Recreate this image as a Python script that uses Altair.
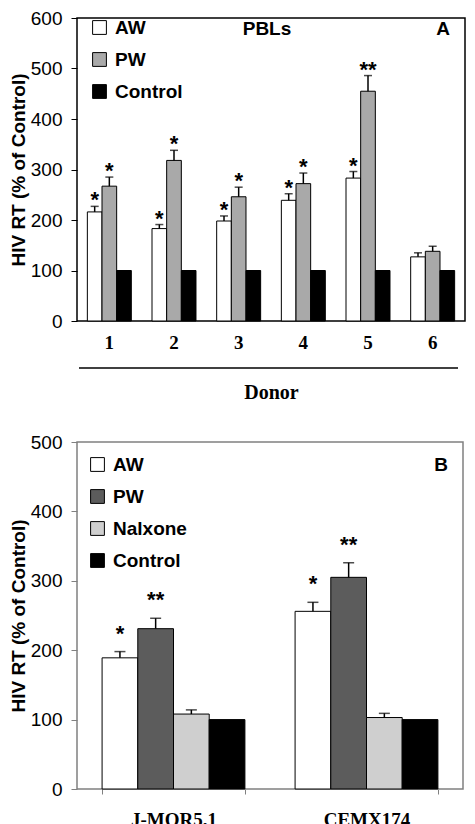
import altair as alt
import pandas as pd

# ---------------- Panel A data (PBLs) ----------------
donors = ["1", "2", "3", "4", "5", "6"]
groups_a = ["AW", "PW", "Control"]
a_aw = [216, 183, 198, 239, 283, 127]
a_aw_err = [11, 8, 10, 13, 13, 8]
a_pw = [267, 318, 246, 272, 455, 138]
a_pw_err = [18, 20, 19, 21, 31, 10]
a_ctrl = [100, 100, 100, 100, 100, 100]
a_aw_sig = ["*", "*", "*", "*", "*", ""]
a_pw_sig = ["*", "*", "*", "*", "**", ""]

# ---------------- Panel B data (cell lines) ----------------
cells = ["J-MOR5.1", "CEMX174"]
groups_b = ["AW", "PW", "Nalxone", "Control"]
b_aw = [189, 256]
b_aw_err = [9, 13]
b_pw = [231, 305]
b_pw_err = [15, 21]
b_nal = [108, 103]
b_nal_err = [6, 6]
b_ctrl = [100, 100]
b_aw_sig = ["*", "*"]
b_pw_sig = ["**", "**"]

rows = []
for i, d in enumerate(donors):
    rows.append(dict(cat=d, group="AW", value=a_aw[i], err=a_aw_err[i], sig=a_aw_sig[i]))
    rows.append(dict(cat=d, group="PW", value=a_pw[i], err=a_pw_err[i], sig=a_pw_sig[i]))
    rows.append(dict(cat=d, group="Control", value=a_ctrl[i], err=0, sig=""))
df_a = pd.DataFrame(rows)
df_a["top"] = df_a["value"] + df_a["err"]

rows = []
for i, c in enumerate(cells):
    rows.append(dict(cat=c, group="AW", value=b_aw[i], err=b_aw_err[i], sig=b_aw_sig[i]))
    rows.append(dict(cat=c, group="PW", value=b_pw[i], err=b_pw_err[i], sig=b_pw_sig[i]))
    rows.append(dict(cat=c, group="Nalxone", value=b_nal[i], err=b_nal_err[i], sig=""))
    rows.append(dict(cat=c, group="Control", value=b_ctrl[i], err=0, sig=""))
df_b = pd.DataFrame(rows)
df_b["top"] = df_b["value"] + df_b["err"]

SANS = "Liberation Sans"
SERIF = "Liberation Serif"


def panel(df, cats, groups, colors, ymax, pad_in, pad_out, tickcol,
          cap, star_dy, xtitle, legend_xy, label_text, xaxis_extra):
    x = alt.X("cat:N", sort=cats,
              scale=alt.Scale(domain=cats, paddingInner=pad_in, paddingOuter=pad_out),
              axis=alt.Axis(title=xtitle, labelAngle=0, domain=False,
                            labelFont=SERIF, labelFontWeight="bold", labelFontSize=19,
                            labelColor="black", titleFont=SERIF, titleFontSize=20,
                            titleFontWeight="bold", titleColor="black",
                            **xaxis_extra))
    xo = alt.XOffset("group:N", sort=groups,
                     scale=alt.Scale(domain=groups, paddingInner=0, paddingOuter=0))
    y = alt.Y("value:Q",
              scale=alt.Scale(domain=[0, ymax], nice=False),
              axis=alt.Axis(values=list(range(0, ymax + 1, 100)),
                            title="HIV RT (% of Control)", grid=False, domain=False,
                            tickColor=tickcol, tickSize=6, tickWidth=1,
                            labelFont=SANS, labelFontSize=19, labelColor="black",
                            labelPadding=9, titleFont=SANS, titleFontSize=19,
                            titleFontWeight="bold", titleColor="black", titlePadding=2))
    base = alt.Chart(df)
    bars = base.mark_bar(stroke="black", strokeWidth=1).encode(
        x=x, xOffset=xo, y=y,
        fill=alt.Fill("group:N", sort=groups,
                      scale=alt.Scale(domain=groups, range=colors),
                      legend=alt.Legend(title=None, orient="none",
                                        legendX=legend_xy[0], legendY=legend_xy[1],
                                        symbolType="square", symbolSize=190,
                                        symbolStrokeColor="black", symbolStrokeWidth=1,
                                        symbolOpacity=1,
                                        labelFont=SANS, labelFontSize=19,
                                        labelFontWeight="bold", labelColor="black",
                                        labelOffset=6, rowPadding=12)))
    eb = base.transform_filter("datum.err > 0")
    rule = eb.mark_rule(color="black", strokeWidth=1.5).encode(
        x=alt.X("cat:N", sort=cats), xOffset=xo, y="value:Q", y2="top:Q")
    capm = eb.mark_tick(color="black", thickness=1.5, size=cap, orient="horizontal").encode(
        x=alt.X("cat:N", sort=cats), xOffset=xo, y="top:Q")
    stars = base.transform_filter("datum.sig != ''").mark_text(
        font=SANS, fontWeight="bold", fontSize=22, baseline="alphabetic",
        dy=star_dy, color="black").encode(
        x=alt.X("cat:N", sort=cats), xOffset=xo, y="top:Q", text="sig:N")
    ann_layers = []
    for (t, px, py) in label_text:
        ann_layers.append(
            alt.Chart(pd.DataFrame({"t": [t]})).mark_text(
                font=SANS, fontWeight="bold", fontSize=19, color="black",
                baseline="middle", align="center").encode(
                x=alt.value(px), y=alt.value(py), text="t:N"))
    return bars, rule, capm, stars, ann_layers


# Panel A
WA, HA = 388, 303
bars, rule, capm, stars, anns = panel(
    df_a, donors, groups_a, ["white", "#a9a9a9", "black"], 600,
    0.32, 0.16, "black", 8, 1, "Donor", (13, 0),
    [("PBLs", 190, 11), ("A", 366, 11)],
    dict(ticks=False, labelPadding=12, titlePadding=30))
donor_line = alt.Chart(pd.DataFrame({"k": [0]})).mark_rule(
    color="black", strokeWidth=1.5).encode(
    x=alt.value(2), x2=alt.value(381), y=alt.value(HA + 47))
chart_a = alt.layer(bars, rule, capm, stars, *anns, donor_line).properties(
    width=WA, height=HA,
    view=alt.ViewBackground(stroke="black", strokeWidth=1.5))

# Panel B
WB, HB = 386, 347
bars, rule, capm, stars, anns = panel(
    df_b, cells, groups_b, ["white", "#5c5c5c", "#cfcfcf", "black"], 500,
    0.26, 0.13, "#808080", 11, -11, None, (11, 13),
    [("B", 364, 23)],
    dict(ticks=True, tickBand="extent", tickColor="#808080", tickSize=5,
         labelPadding=16))
chart_b = alt.layer(bars, rule, capm, stars, *anns).properties(
    width=WB, height=HB,
    view=alt.ViewBackground(stroke="#808080", strokeWidth=1.5))

chart = alt.vconcat(chart_a, chart_b, spacing=29).resolve_scale(
    fill="independent", x="independent", y="independent", xOffset="independent"
).resolve_legend(fill="independent").properties(
    padding={"left": 0, "top": 0, "right": 0, "bottom": 0}
).configure(background="white")

chart.save("out.html", embed_options={"renderer": "svg", "actions": False})
